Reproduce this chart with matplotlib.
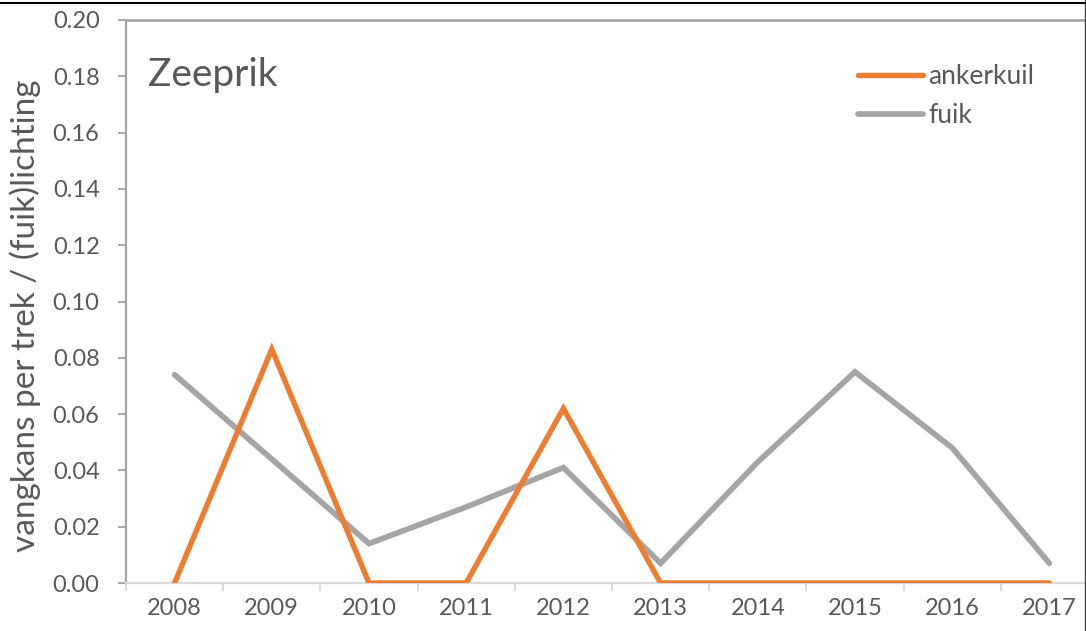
import matplotlib
matplotlib.use('Agg')
import matplotlib.pyplot as plt
from matplotlib.lines import Line2D

years = ['2008', '2009', '2010', '2011', '2012', '2013', '2014', '2015', '2016', '2017']
ankerkuil = [0.0, 0.083, 0.0, 0.0, 0.062, 0.0, 0.0, 0.0, 0.0, 0.0]
fuik = [0.074, 0.044, 0.014, 0.027, 0.041, 0.007, 0.043, 0.075, 0.048, 0.007]

TEXT = '#595959'
plt.rcParams['font.family'] = ['Lato', 'DejaVu Sans']

W, H = 1086, 631
fig = plt.figure(figsize=(W / 100, H / 100), dpi=100)
# plot area runs a little past the right edge of the figure
ax = fig.add_axes([126 / W, 48 / H, 972 / W, 563 / H])

x = range(len(years))
ax.plot(x, ankerkuil, color='#ED7D31', lw=3.9, solid_capstyle='round',
        solid_joinstyle='miter', label='ankerkuil', zorder=3)
ax.plot(x, fuik, color='#A5A5A5', lw=4.1, solid_capstyle='round',
        solid_joinstyle='miter', label='fuik', zorder=2)

ax.set_xlim(-0.5, len(years) - 0.5)
ax.set_ylim(0, 0.20)
ax.set_yticks([i * 0.02 for i in range(11)])
ax.yaxis.set_major_formatter(matplotlib.ticker.FormatStrFormatter('%.2f'))

ax.set_xticks([i - 0.5 for i in range(len(years) + 1)])
ax.set_xticklabels([])
ax.set_xticks(list(x), minor=True)
ax.set_xticklabels(years, minor=True)

ax.spines['right'].set_visible(False)
ax.spines['left'].set_color('#A6A6A6')
ax.spines['left'].set_linewidth(1.6)
ax.spines['top'].set_color('#A6A6A6')
ax.spines['top'].set_linewidth(2.0)
ax.spines['bottom'].set_color('#D9D9D9')
ax.spines['bottom'].set_linewidth(1.6)

ax.tick_params(axis='y', which='major', length=6, width=1.4, color='#A6A6A6',
               labelsize=17, labelcolor=TEXT, pad=13)
ax.tick_params(axis='x', which='major', length=6, width=1.4, color='#D9D9D9')
ax.tick_params(axis='x', which='minor', length=0, labelsize=17,
               labelcolor=TEXT, pad=11)

ax.set_ylabel('vangkans per trek / (fuik)lichting', fontsize=24, color=TEXT)
ax.yaxis.set_label_coords(-85 / 972, (583 - 316) / 563)

fig.text(148 / W, 1 - 75 / H, 'Zeeprik', fontsize=28, color=TEXT,
         ha='left', va='center')

leg = ax.legend(loc='upper left', bbox_to_anchor=(858 / W, 1 - 64 / H),
                bbox_transform=fig.transFigure, frameon=False, fontsize=19,
                handlelength=2.45, handletextpad=0.2, labelspacing=0.53,
                borderpad=0, borderaxespad=0)
for t in leg.get_texts():
    t.set_color(TEXT)

# outer border lines along the top and right
fig.add_artist(Line2D([0, 1], [1 - 2.5 / H, 1 - 2.5 / H], color='black', lw=1.5,
                      transform=fig.transFigure))
fig.add_artist(Line2D([1 - 0.8 / W, 1 - 0.8 / W], [0, 1], color='#404040', lw=1.0,
                      transform=fig.transFigure))

fig.savefig('out.png', dpi=100)
